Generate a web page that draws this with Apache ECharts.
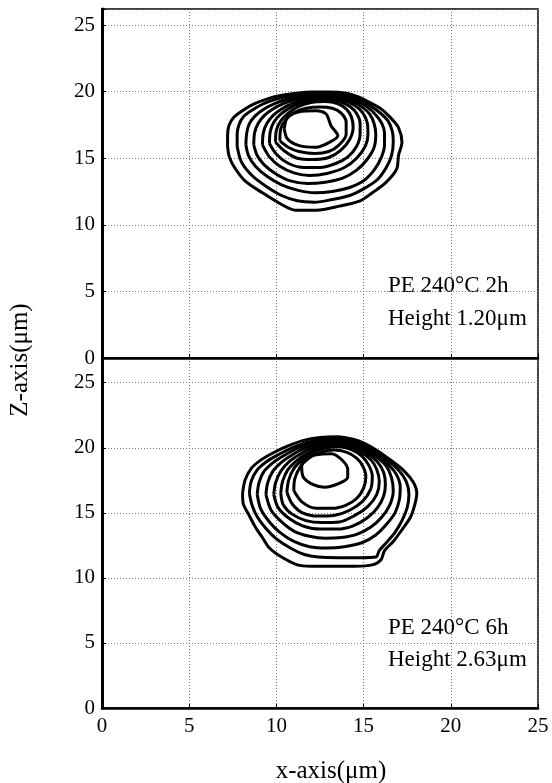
<!DOCTYPE html>
<html>
<head>
<meta charset="utf-8">
<script src="https://cdn.jsdelivr.net/npm/echarts@6/dist/echarts.min.js"></script>
<style>
  html, body { margin: 0; padding: 0; background: #fff; }
  #main { width: 552px; height: 783px; }
</style>
</head>
<body>
<div id="main"></div>
<script>
// tick values
var xTicks = [0, 5, 10, 15, 20, 25];
var zTicks = [0, 5, 10, 15, 20, 25];

// PE 240C 2h contours (x, z in um), outer -> inner
var top1 = [[7.2,15.9],[7.2,16.7],[7.28,17.45],[7.56,18.07],[8.05,18.57],[8.72,19.07],[9.49,19.45],[10.25,19.7],[11.0,19.85],[12.0,19.97],[13.0,19.97],[14.0,19.88],[14.7,19.6],[15.34,19.19],[16.0,18.7],[16.5,18.1],[17.0,17.3],[17.2,16.2],[17.0,15.2],[16.9,14.2],[16.3,13.2],[15.5,12.4],[14.8,11.8],[13.6,11.4],[12.3,11.1],[11.1,11.1],[10.2,11.6],[9.2,12.4],[8.2,13.3],[7.6,14.3],[7.3,15.1]];
var top2 = [[7.75,15.9],[7.75,16.8],[7.85,17.5],[8.1,18.1],[8.6,18.6],[9.2,19.05],[9.9,19.4],[10.6,19.62],[11.4,19.78],[12.3,19.87],[13.2,19.85],[14.0,19.72],[14.7,19.42],[15.3,19.0],[15.9,18.45],[16.4,17.8],[16.65,17.0],[16.7,16.2],[16.6,15.2],[16.3,14.3],[15.8,13.4],[15.0,12.7],[14.2,12.2],[13.2,11.9],[12.2,11.7],[11.2,11.8],[10.3,12.2],[9.4,12.9],[8.6,13.7],[8.0,14.7]];
var top3 = [[8.25,16.0],[8.3,16.9],[8.45,17.6],[8.8,18.2],[9.3,18.7],[9.9,19.1],[10.6,19.42],[11.4,19.65],[12.3,19.76],[13.2,19.73],[14.0,19.58],[14.6,19.3],[15.2,18.85],[15.7,18.25],[16.05,17.6],[16.2,16.9],[16.2,16.0],[16.0,15.0],[15.6,14.1],[15.0,13.3],[14.2,12.8],[13.2,12.5],[12.2,12.4],[11.2,12.6],[10.3,13.0],[9.5,13.6],[8.8,14.4],[8.4,15.2]];
var top4 = [[8.7,16.0],[8.75,16.9],[8.95,17.6],[9.3,18.2],[9.8,18.7],[10.4,19.1],[11.1,19.4],[11.9,19.58],[12.8,19.64],[13.6,19.55],[14.3,19.3],[14.9,18.85],[15.35,18.3],[15.6,17.6],[15.7,16.8],[15.6,15.8],[15.2,14.9],[14.6,14.1],[13.8,13.5],[12.8,13.2],[11.8,13.1],[10.8,13.3],[10.0,13.8],[9.3,14.5],[8.9,15.2]];
var top5 = [[9.2,16.0],[9.25,16.9],[9.45,17.6],[9.8,18.2],[10.3,18.7],[10.9,19.1],[11.6,19.38],[12.4,19.5],[13.2,19.48],[13.9,19.3],[14.5,18.95],[14.95,18.4],[15.2,17.7],[15.25,16.8],[15.1,15.9],[14.6,15.0],[13.9,14.3],[12.9,13.85],[11.9,13.7],[11.0,13.9],[10.2,14.4],[9.6,15.1]];
var top6 = [[9.6,16.1],[9.65,17.0],[9.85,17.7],[10.25,18.3],[10.8,18.8],[11.4,19.15],[12.1,19.35],[12.9,19.4],[13.6,19.25],[14.2,18.9],[14.6,18.35],[14.8,17.6],[14.8,16.8],[14.6,15.9],[14.1,15.1],[13.4,14.6],[12.5,14.3],[11.6,14.3],[10.7,14.6],[10.0,15.3]];
var top7 = [[9.95,16.2],[10.0,17.1],[10.25,17.8],[10.7,18.4],[11.3,18.9],[12.0,19.18],[12.8,19.25],[13.5,19.1],[14.0,18.7],[14.3,18.1],[14.4,17.3],[14.2,16.4],[13.7,15.6],[13.0,15.05],[12.1,14.9],[11.2,15.0],[10.5,15.5]];
var top8 = [[10.2,16.3],[10.25,17.2],[10.55,17.9],[11.05,18.45],[11.7,18.75],[12.5,18.85],[13.2,18.75],[13.7,18.4],[14.0,17.7],[14.0,16.8],[13.6,16.0],[13.0,15.5],[12.2,15.35],[11.3,15.5],[10.7,15.8]];
var top9 = [[10.45,17.2],[10.64,18.07],[11.31,18.49],[12.27,18.57],[12.85,18.32],[13.13,17.44],[13.52,16.69],[13.04,16.19],[12.27,15.82],[11.31,15.94],[10.64,16.44]];

// PE 240C 6h contours
var bot1 = [[8.06,16.5],[8.2,17.5],[8.55,18.4],[9.1,19.05],[9.8,19.6],[10.6,20.1],[11.5,20.55],[12.5,20.8],[13.5,20.85],[14.4,20.65],[15.1,20.3],[15.7,19.85],[16.4,19.2],[17.3,18.25],[17.85,17.35],[18.05,16.5],[17.95,15.7],[17.7,14.7],[17.2,13.7],[16.7,12.8],[16.2,12.1],[16.0,11.4],[15.5,11.0],[14.5,10.9],[13.2,10.9],[12.0,10.9],[11.2,11.0],[10.3,11.6],[9.6,12.3],[9.2,13.1],[8.8,13.9],[8.4,14.9],[8.1,15.7]];
var bot2 = [[8.45,16.5],[8.55,17.4],[8.9,18.3],[9.45,18.95],[10.15,19.5],[10.9,20.0],[11.7,20.4],[12.6,20.68],[13.5,20.73],[14.3,20.55],[15.0,20.2],[15.6,19.75],[16.3,19.1],[17.0,18.3],[17.45,17.4],[17.6,16.4],[17.5,15.4],[17.2,14.4],[16.8,13.5],[16.3,12.7],[15.9,12.1],[15.7,11.6],[14.8,11.55],[13.6,11.55],[12.4,11.6],[11.6,11.8],[10.8,12.3],[10.0,13.0],[9.4,13.8],[8.9,14.7],[8.6,15.6]];
var bot3 = [[8.9,16.4],[9.0,17.3],[9.3,18.2],[9.85,18.9],[10.5,19.45],[11.2,19.95],[12.0,20.35],[12.9,20.58],[13.8,20.55],[14.6,20.25],[15.3,19.8],[15.9,19.25],[16.5,18.6],[16.9,17.9],[17.1,17.0],[17.05,16.0],[16.8,15.0],[16.3,14.1],[15.7,13.3],[14.9,12.7],[13.9,12.4],[12.9,12.3],[11.9,12.4],[11.0,12.8],[10.2,13.5],[9.6,14.3],[9.1,15.3]];
var bot4 = [[9.4,16.4],[9.5,17.3],[9.8,18.2],[10.3,18.9],[10.9,19.45],[11.6,19.95],[12.4,20.3],[13.3,20.48],[14.2,20.35],[15.0,19.95],[15.7,19.35],[16.3,18.6],[16.6,17.7],[16.7,16.7],[16.5,15.6],[16.0,14.6],[15.4,13.9],[14.6,13.35],[13.7,13.1],[12.8,13.05],[11.9,13.2],[11.0,13.6],[10.3,14.3],[9.7,15.2]];
var bot5 = [[9.85,16.4],[9.95,17.3],[10.25,18.2],[10.75,18.95],[11.35,19.5],[12.0,19.95],[12.8,20.25],[13.7,20.35],[14.5,20.1],[15.2,19.6],[15.8,18.9],[16.15,18.1],[16.25,17.2],[16.15,16.3],[15.8,15.4],[15.2,14.6],[14.4,14.0],[13.5,13.75],[12.5,13.75],[11.5,14.0],[10.7,14.6],[10.1,15.4]];
var bot6 = [[10.25,16.5],[10.35,17.4],[10.65,18.3],[11.15,19.0],[11.75,19.55],[12.45,19.98],[13.3,20.22],[14.1,20.1],[14.8,19.7],[15.4,19.1],[15.75,18.35],[15.9,17.4],[15.75,16.4],[15.25,15.5],[14.5,14.8],[13.6,14.3],[12.6,14.25],[11.7,14.4],[10.9,14.9],[10.4,15.6]];
var bot7 = [[10.6,16.6],[10.7,17.5],[11.0,18.4],[11.5,19.1],[12.1,19.65],[12.8,19.98],[13.6,20.08],[14.3,19.85],[14.9,19.35],[15.3,18.65],[15.5,17.8],[15.4,16.8],[14.95,15.9],[14.2,15.2],[13.3,14.8],[12.4,14.75],[11.5,15.0],[10.9,15.7]];
var bot8 = [[11.0,16.7],[11.05,17.6],[11.35,18.5],[11.85,19.2],[12.5,19.65],[13.3,19.83],[14.05,19.65],[14.6,19.2],[14.95,18.6],[15.13,17.8],[15.0,16.9],[14.6,16.1],[14.0,15.6],[13.2,15.35],[12.3,15.35],[11.5,15.8]];
var bot9 = [[11.45,18.49],[11.55,19.12],[12.21,19.45],[13.15,19.55],[13.72,19.12],[14.09,18.36],[14.09,17.73],[13.53,17.22],[12.77,16.97],[12.11,17.17],[11.55,17.73]];

var topContours = [top1, top2, top3, top4, top5, top6, top7, top8, top9];
var botContours = [bot1, bot2, bot3, bot4, bot5, bot6, bot7, bot8, bot9];

var serif = '"Liberation Serif", "DejaVu Serif", serif';

function closed(arr) {
    return arr.concat([arr[0]]);
}

function xAxisOpt(idx, showLabel) {
    return {
        type: 'value', gridIndex: idx, min: 0, max: 25, interval: 5,
        axisLine: { show: true, onZero: false, lineStyle: { color: '#000', width: 2.5 } },
        axisTick: { show: true, inside: true, length: 4, lineStyle: { color: '#000' } },
        axisLabel: { show: showLabel, color: '#000', fontFamily: serif, fontSize: 21, margin: 8,
            formatter: function (v) { return xTicks.indexOf(v) >= 0 ? String(v) : ''; } },
        splitLine: { show: true, lineStyle: { color: '#777', width: 1, type: [1, 2] } }
    };
}

function yAxisOpt(idx, max) {
    return {
        type: 'value', gridIndex: idx, min: 0, max: max, interval: 5,
        axisLine: { show: true, onZero: false, lineStyle: { color: '#000', width: 3 } },
        axisTick: { show: true, inside: true, length: 4, lineStyle: { color: '#000' } },
        axisLabel: { color: '#000', fontFamily: serif, fontSize: 21, margin: 7,
            formatter: function (v) { return zTicks.indexOf(v) >= 0 ? String(v) : ''; } },
        splitLine: { show: true, lineStyle: { color: '#777', width: 1, type: [1, 2] } }
    };
}

var series = [];
topContours.forEach(function (c) {
    series.push({ type: 'line', xAxisIndex: 0, yAxisIndex: 0, data: closed(c), showSymbol: false,
        smooth: 0.3, lineStyle: { color: '#000', width: 3 } });
});
botContours.forEach(function (c) {
    series.push({ type: 'line', xAxisIndex: 1, yAxisIndex: 1, data: closed(c), showSymbol: false,
        smooth: 0.3, lineStyle: { color: '#000', width: 3 } });
});

function label(text, x, y, size, rot) {
    return { type: 'text', x: x, y: y, rotation: rot || 0,
        style: { text: text, font: size + 'px ' + serif, fill: '#000',
            align: rot !== undefined ? 'center' : 'left', verticalAlign: 'middle' } };
}

var chart = echarts.init(document.getElementById('main'));
chart.setOption({
    animation: false,
    backgroundColor: '#fff',
    grid: [
        { left: 102, right: 14, top: 9, height: 349, show: true, borderColor: '#000', borderWidth: 1.5 },
        { left: 102, right: 14, top: 358, height: 350, show: true, borderColor: '#000', borderWidth: 1.5 }
    ],
    xAxis: [xAxisOpt(0, false), xAxisOpt(1, true)],
    yAxis: [yAxisOpt(0, 26.2), yAxisOpt(1, 26.9)],
    series: series,
    graphic: [
        label('PE 240°C 2h', 388, 286, 23),
        label('Height 1.20μm', 388, 319, 23),
        label('PE 240°C 6h', 388, 628, 23),
        label('Height 2.63μm', 388, 660, 23),
        label('x-axis(μm)', 331, 771, 25, 0),
        label('Z-axis(μm)', 20, 360, 25, Math.PI / 2)
    ]
});
</script>
</body>
</html>
